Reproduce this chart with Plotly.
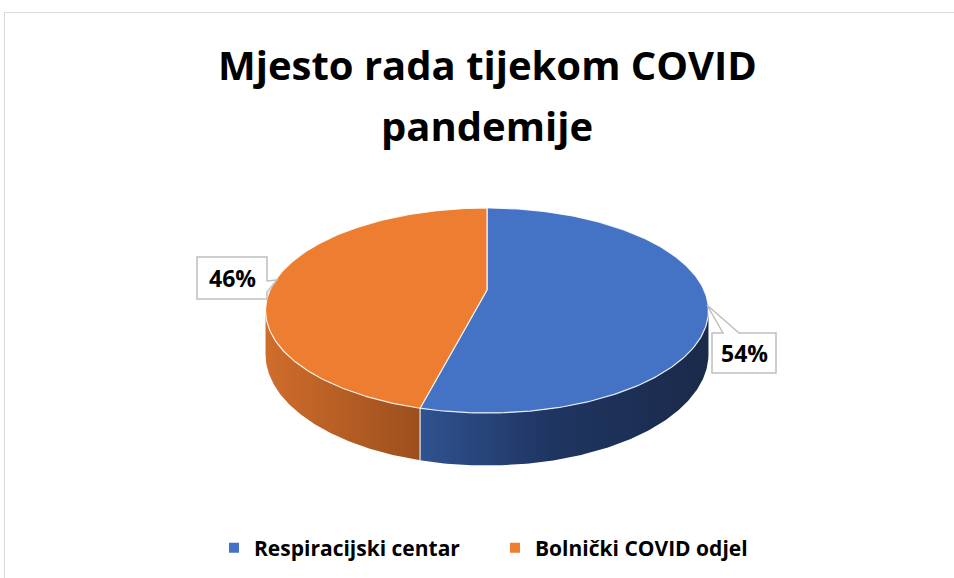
import numpy as np
import plotly.graph_objects as go

# ---- data ----
categories = ["Respiracijski centar", "Bolnički COVID odjel"]
values = [54, 46]
top_colors = ["#4472C4", "#ED7D31"]
side_scales = [
    [[0, "#2F5290"], [0.45, "#1F3561"], [1, "#1A2A4A"]],
    [[0, "#CF6D2C"], [1, "#9C4F1D"]],
]
title_lines = ["Mjesto rada tijekom COVID", "pandemije"]

FONT = "Open Sans"

# ---- 3D pie geometry (pixel-like axis units) ----
W, H = 954, 578
cx, cy0 = 487.0, 290.0      # projected pie centre
c_x, a_y = 217.0, 98.4      # horizontal / depth radii
persp = -0.2                # perspective factor
depth = 42.0                # thickness


def proj(t):
    u = np.sin(t)
    v = -np.cos(t)
    den = 1 + persp * v
    return cx + c_x * u / den, cy0 + a_y * v / den, depth / den


fractions = np.array(values, dtype=float) / np.sum(values)
bounds = np.concatenate([[0], np.cumsum(fractions)]) * 2 * np.pi
vis_lo = np.arccos(persp)
vis_hi = 2 * np.pi - vis_lo

fig = go.Figure()

# side walls (front, visible part)
for i in range(len(values)):
    s = max(bounds[i], vis_lo)
    e = min(bounds[i + 1], vis_hi)
    if e <= s:
        continue
    t = np.linspace(s, e, 160)
    x, y, d = proj(t)
    xs = np.concatenate([x, x[::-1]])
    ys = np.concatenate([y, (y + d)[::-1]])
    fig.add_trace(go.Scatter(
        x=xs, y=ys, mode="lines", fill="toself",
        line=dict(width=0), fillcolor=top_colors[i],
        fillgradient=dict(type="horizontal", colorscale=side_scales[i]),
        hoverinfo="skip", showlegend=False))

# vertical white edges on the visible wall where slices meet
for b in bounds[1:-1]:
    if vis_lo < b < vis_hi:
        x, y, d = proj(np.array([b]))
        fig.add_trace(go.Scatter(
            x=[x[0], x[0]], y=[y[0], y[0] + d[0]], mode="lines",
            line=dict(color="rgba(255,255,255,0.85)", width=1.2),
            hoverinfo="skip", showlegend=False))

# top faces
for i in range(len(values)):
    t = np.linspace(bounds[i], bounds[i + 1], 240)
    x, y, _ = proj(t)
    xs = np.concatenate([[cx], x, [cx]])
    ys = np.concatenate([[cy0], y, [cy0]])
    fig.add_trace(go.Scatter(
        x=xs, y=ys, mode="lines", fill="toself",
        fillcolor=top_colors[i],
        line=dict(color="rgba(255,255,255,0.85)", width=1.2),
        hovertext=f"{categories[i]}: {values[i]}%", hoverinfo="text",
        showlegend=False))

# legend entries
for i in range(len(values)):
    fig.add_trace(go.Scatter(
        x=[None], y=[None], mode="markers", name=categories[i],
        marker=dict(symbol="square", size=10, color=top_colors[i])))

# ---- data labels (callouts) ----
callouts = [
    (1, "M197,257 L267,257 L267,281 L277,280 L267,292 L267,299 L197,299 Z", (232, 278)),
    (0, "M712,333 L723,333 L707,305 L739,333 L776,333 L776,373 L712,373 Z", (744, 353)),
]
for idx, path, (tx, ty) in callouts:
    fig.add_shape(type="path", path=path, xref="x", yref="y",
                  line=dict(color="#BFBFBF", width=1.5), fillcolor="white")
    fig.add_annotation(x=tx, y=ty, xref="x", yref="y", text=f"{values[idx]}%",
                       showarrow=False,
                       font=dict(family=FONT, size=23, color="#000000", weight=700))

# title (two lines, placed separately to match the wide line spacing)
for line, yc in zip(title_lines, [64, 125]):
    fig.add_annotation(x=487, y=yc, xref="x", yref="y", text=line, showarrow=False,
                       xanchor="center", yanchor="middle",
                       font=dict(family=FONT, size=40, color="#000000", weight=700))

# chart frame
fig.add_shape(type="rect", xref="x", yref="y", x0=4.5, y0=12.5, x1=1200, y1=800,
              line=dict(color="#D9D9D9", width=1), fillcolor="rgba(0,0,0,0)", layer="below")

fig.update_layout(
    width=W, height=H,
    margin=dict(l=0, r=0, t=0, b=0),
    paper_bgcolor="white", plot_bgcolor="white",
    xaxis=dict(range=[0, W], visible=False, fixedrange=True),
    yaxis=dict(range=[H, 0], visible=False, fixedrange=True),
    showlegend=True,
    legend=dict(orientation="h", x=214 / W, xanchor="left", y=1 - 548 / H, yanchor="middle",
                entrywidthmode="pixels", entrywidth=236,
                font=dict(family=FONT, size=21, color="#000000", weight=700),
                bgcolor="rgba(0,0,0,0)", itemclick=False, itemdoubleclick=False),
)

fig.write_html("out.html", config={"displayModeBar": False},
               post_script="document.body.style.margin='0';")
